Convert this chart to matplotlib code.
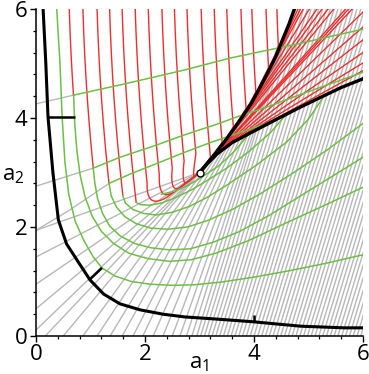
import numpy as np
import matplotlib
matplotlib.use("Agg")
import matplotlib.pyplot as plt
from matplotlib.ticker import MultipleLocator

plt.rcParams['font.family'] = ['Open Sans', 'DejaVu Sans']
plt.rcParams['mathtext.fontset'] = 'custom'
plt.rcParams['mathtext.rm'] = 'Open Sans'
plt.rcParams['mathtext.it'] = 'Open Sans'

RED = '#ee2e2e'
GREEN = '#6dbf45'
GRAY = '#b8b8b8'

# cusp point and the two fold curves leaving it
cusp_x, cusp_y = 3.0, 3.0
upper_fold_x = [3.00, 3.25, 3.50, 3.75, 3.95, 4.12, 4.25, 4.40, 4.52, 4.64, 4.74]
upper_fold_y = [3.00, 3.30, 3.62, 3.97, 4.27, 4.58, 4.83, 5.13, 5.43, 5.72, 6.00]
right_fold_x = [3.00, 3.15, 3.32, 3.60, 3.94, 4.42, 4.85, 5.16, 5.60, 6.00]
right_fold_y = [3.00, 3.17, 3.34, 3.55, 3.73, 3.98, 4.20, 4.35, 4.56, 4.72]

# outer boundary curve with its three small marks
outer_x = [0.13, 0.18, 0.22, 0.31, 0.41, 0.56, 0.80, 0.99, 1.24, 1.54, 1.91, 2.33, 2.73, 3.32, 4.00, 4.42, 4.86, 5.65, 6.00]
outer_y = [6.00, 5.00, 4.02, 3.00, 2.13, 1.69, 1.32, 1.03, 0.77, 0.59, 0.48, 0.40, 0.35, 0.31, 0.26, 0.22, 0.18, 0.15, 0.15]
marks = [((0.22, 0.72), (4.02, 4.02)), ((0.99, 1.21), (1.04, 1.25)), ((4.00, 4.00), (0.26, 0.38))]

# gray family: entry points on the frame, lines run to the upper fold
gray_left_y = [1.94, 1.45, 0.95, 0.50, 0.11]
gray_bottom_x = [0.17, 0.50, 0.86, 1.12, 1.36, 1.58, 1.78, 1.96, 2.15, 2.33, 2.50, 2.64, 2.76, 2.86,
                 2.95, 3.02, 3.09, 3.16, 3.23, 3.30, 3.37, 3.44, 3.51, 3.58, 3.65, 3.72, 3.79, 3.86,
                 3.93, 4.00, 4.07, 4.14, 4.21, 4.28, 4.35, 4.42, 4.49, 4.56, 4.63, 4.70, 4.77, 4.84,
                 4.91, 4.98, 5.05, 5.12, 5.19, 5.26, 5.33, 5.40, 5.47, 5.54, 5.61, 5.68, 5.75, 5.82,
                 5.89, 5.96]
hatch_slope = 3.3

# red family: x where each line leaves the top edge
red_top_x = [0.61, 0.86, 1.12, 1.35, 1.58, 1.82, 2.06, 2.31, 2.54, 2.77, 3.03, 3.27, 3.50, 3.76, 3.96, 4.22, 4.42]
red_lean = 0.03
red_curl = 0.012
# the first lines turn green at these heights
red_stop_y = [4.42, 3.08, 2.80, 2.58, 2.45]
# bend bottoms of the lines that run into the cusp
bend_x = [2.02, 2.24, 2.45, 2.66, 2.86]
bend_y = [2.36, 2.50, 2.63, 2.76, 2.90]

# red rays in the wedge: tangent points on the folds
ray_upper_t = [3.12, 3.35, 3.55, 3.75, 3.92, 4.08, 4.22, 4.34]
ray_right_t = [3.03, 3.08, 3.14, 3.22, 3.30, 3.40, 3.52, 3.66, 3.85]

# green curves (lower arcs first, then lines across the upper part)
green_curves = [
    ([0.38, 0.44, 0.48, 0.53, 0.60, 0.72, 0.88, 1.05, 1.21, 1.45, 1.75, 2.10, 2.50, 2.90, 3.40, 4.00, 4.66, 5.30, 6.00],
     [6.00, 5.00, 4.00, 3.20, 2.60, 2.10, 1.75, 1.45, 1.25, 1.10, 1.00, 0.95, 0.93, 0.94, 0.99, 1.08, 1.20, 1.33, 1.49]),
    ([0.69, 0.71, 0.75, 0.81, 0.90, 1.03, 1.20, 1.42, 1.70, 2.05, 2.45, 2.85, 3.30, 3.90, 4.60, 5.30, 6.00],
     [4.42, 3.90, 3.40, 2.95, 2.55, 2.20, 1.92, 1.70, 1.52, 1.42, 1.37, 1.40, 1.52, 1.75, 2.08, 2.40, 2.73]),
    ([1.05, 1.08, 1.13, 1.22, 1.35, 1.54, 1.80, 2.10, 2.45, 2.83, 3.25, 3.74, 4.29, 4.90, 5.50, 6.00],
     [3.08, 2.80, 2.52, 2.25, 2.02, 1.84, 1.70, 1.62, 1.58, 1.60, 1.72, 1.92, 2.22, 2.60, 2.97, 3.28]),
    ([1.34, 1.38, 1.48, 1.63, 1.84, 2.10, 2.42, 2.78, 3.15, 3.60, 4.10, 4.70, 5.35, 6.00],
     [2.80, 2.57, 2.36, 2.19, 2.06, 1.98, 1.96, 2.00, 2.12, 2.32, 2.60, 2.98, 3.42, 3.90]),
    ([1.59, 1.64, 1.78, 1.97, 2.20, 2.50, 2.82, 3.15, 3.55, 4.05, 4.60, 5.00, 5.27],
     [2.58, 2.44, 2.32, 2.25, 2.22, 2.27, 2.38, 2.55, 2.80, 3.14, 3.56, 3.98, 4.38]),
    ([1.84, 1.92, 2.08, 2.30, 2.56, 2.85, 3.15, 3.50, 3.90, 4.30, 4.62],
     [2.45, 2.41, 2.40, 2.44, 2.54, 2.68, 2.86, 3.08, 3.38, 3.73, 4.10]),
    ([2.30, 2.55, 2.80, 3.05, 3.35, 3.65, 3.95],
     [2.60, 2.66, 2.77, 2.92, 3.12, 3.40, 3.76]),
    # lines across the upper part
    ([0.69, 1.60, 2.72, 3.56, 4.80, 6.00],
     [4.42, 4.62, 4.88, 5.10, 5.36, 5.63]),
    ([1.05, 1.54, 2.20, 2.72, 3.30, 3.74, 4.29, 4.90, 6.00],
     [3.08, 3.28, 3.50, 3.69, 3.88, 4.04, 4.22, 4.45, 4.84]),
    ([1.34, 1.70, 2.20, 2.70, 3.20, 3.70, 4.29],
     [2.80, 2.96, 3.16, 3.36, 3.55, 3.72, 3.92]),
]
# gray starts of the three upper crossing lines
gray_stub_x = [[0.00, 0.69], [0.00, 1.05], [0.00, 0.60, 1.34]]
gray_stub_y = [[4.26, 4.42], [2.75, 3.08], [1.94, 2.30, 2.80]]


def upper_x_at(y):
    return np.interp(y, upper_fold_y, upper_fold_x)


def fold_slope(fx, fy, t):
    fx = np.asarray(fx)
    fy = np.asarray(fy)
    return np.interp(t, fx, np.gradient(fy) / np.gradient(fx))


def descend(x0, y):
    return x0 + red_lean * (6 - y) + red_curl * (6 - y) ** 2


fig = plt.figure(figsize=(3.69, 3.74), dpi=100)
ax = fig.add_axes([0.0976, 0.1016, 0.8862, 0.8743])
ax.set_xlim(0, 6)
ax.set_ylim(0, 6)

# dense fold sample used to find tangent contacts
s = np.linspace(0, 1, 400)
ux = np.interp(s, np.linspace(0, 1, len(upper_fold_x)), upper_fold_x)
uy = np.interp(s, np.linspace(0, 1, len(upper_fold_y)), upper_fold_y)

# gray lines
entries = [(0.0, y0) for y0 in gray_left_y] + [(x0, 0.0) for x0 in gray_bottom_x]
for ex, ey in entries:
    ok = (ux - ex) > 1e-6
    m = np.inf
    if ok.any():
        slopes = (uy[ok] - ey) / (ux[ok] - ex)
        i = np.argmin(slopes)
        m = slopes[i]
    if m <= hatch_slope:
        ax.plot([ex, ux[ok][i]], [ey, uy[ok][i]], color=GRAY, lw=1.0, zorder=1)
    else:
        ax.plot([ex, ex + (6.5 - ey) / hatch_slope], [ey, 6.5], color=GRAY, lw=1.0, zorder=1)
for gx, gy in zip(gray_stub_x, gray_stub_y):
    ax.plot(gx, gy, color=GRAY, lw=1.0, zorder=1)

# red rays: forward tangents of both folds
for fx, fy, ts in [(upper_fold_x, upper_fold_y, ray_upper_t), (right_fold_x, right_fold_y, ray_right_t)]:
    for t in ts:
        ty = np.interp(t, fx, fy)
        m = fold_slope(fx, fy, t)
        ax.plot([t, t + 4], [ty, ty + 4 * m], color=RED, lw=1.0, zorder=2)

# red near-vertical lines
ys = np.linspace(6, 2, 401)
tb = np.linspace(0, 1, 25)[:, None]
n_stop = len(red_stop_y)
for k, x0 in enumerate(red_top_x):
    xs = descend(x0, ys)
    if k < n_stop:
        keep = ys >= red_stop_y[k]
        ax.plot(xs[keep], ys[keep], color=RED, lw=1.0, zorder=2)
    elif k < n_stop + len(bend_x):
        j = k - n_stop
        bx, by = bend_x[j], bend_y[j]
        keep = ys >= by + 0.45
        p0 = np.array([xs[keep][-1], ys[keep][-1]])
        p1 = np.array([bx, by - 0.05])
        p2 = np.array([bx + 0.4 * (cusp_x - bx), by + 0.3 * (cusp_y - by)])
        bez = (1 - tb) ** 2 * p0 + 2 * (1 - tb) * tb * p1 + tb ** 2 * p2
        px = list(xs[keep]) + list(bez[:, 0]) + [cusp_x]
        py = list(ys[keep]) + list(bez[:, 1]) + [cusp_y]
        ax.plot(px, py, color=RED, lw=1.0, zorder=2)
    else:
        gap = xs - upper_x_at(ys)
        hit = np.argmax(gap >= -0.03)
        yh = ys[hit]
        yy = np.linspace(yh, cusp_y, 40)
        off = 0.03 * (yy - cusp_y) / max(yh - cusp_y, 1e-3)
        ax.plot(list(xs[:hit + 1]) + list(upper_x_at(yy) - off), list(ys[:hit + 1]) + list(yy),
                color=RED, lw=1.0, zorder=2)

for gx, gy in green_curves:
    ax.plot(gx, gy, color=GREEN, lw=1.1, zorder=3)

# black curves
ax.plot(outer_x, outer_y, color='black', lw=2.2, zorder=4, solid_capstyle='butt')
for mx, my in marks:
    ax.plot(mx, my, color='black', lw=1.8, zorder=4, solid_capstyle='butt')
ax.plot(upper_fold_x, upper_fold_y, color='black', lw=2.4, zorder=4)
ax.plot(right_fold_x, right_fold_y, color='black', lw=2.4, zorder=4)
ax.plot([cusp_x], [cusp_y], 'o', ms=5, mfc='white', mec='black', mew=1.0, zorder=5)

for side in ['top', 'right']:
    ax.spines[side].set_visible(False)
for side in ['left', 'bottom']:
    ax.spines[side].set_linewidth(1.1)
ax.xaxis.set_major_locator(MultipleLocator(2))
ax.yaxis.set_major_locator(MultipleLocator(2))
ax.xaxis.set_minor_locator(MultipleLocator(0.4))
ax.yaxis.set_minor_locator(MultipleLocator(0.4))
ax.tick_params(which='major', length=4, width=1.0, labelsize=16, pad=2)
ax.tick_params(which='minor', length=2.5, width=0.9)

ax.text(3.0, -0.59, r'a$_\mathregular{1}$', fontsize=16, ha='center', va='baseline', clip_on=False)
ax.text(-0.63, 2.86, r'a$_\mathregular{2}$', fontsize=16, ha='left', va='baseline', clip_on=False)

fig.savefig('out.png', dpi=100)
